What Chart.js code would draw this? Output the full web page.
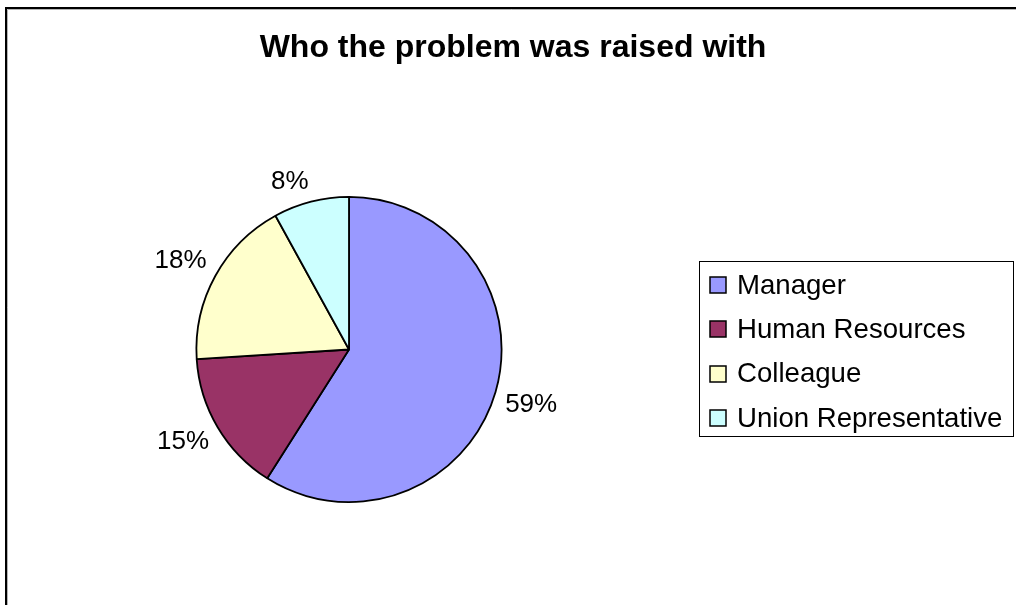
<!DOCTYPE html>
<html>
<head>
<meta charset="utf-8">
<script src="https://cdn.jsdelivr.net/npm/chart.js@4/dist/chart.umd.min.js"></script>
<style>
  html, body { margin: 0; padding: 0; background: #fff; }
  canvas { display: block; }
</style>
</head>
<body>
<canvas id="chart" width="1016" height="605"></canvas>
<script>
const titleText = "Who the problem was raised with";
const categories = ["Manager", "Human Resources", "Colleague", "Union Representative"];
const shares = [59, 15, 18, 8];
const sliceColors = ["#9999FF", "#993366", "#FFFFCC", "#CCFFFF"];

Chart.defaults.font.family = "'Liberation Sans', Arial, sans-serif";
Chart.defaults.color = "#000";

// white page, the black/grey frame on the left and top edges, and the title
const framePlugin = {
  id: "frame",
  beforeDraw(chart) {
    const ctx = chart.ctx;
    ctx.save();
    ctx.fillStyle = "#fff";
    ctx.fillRect(0, 0, chart.width, chart.height);
    ctx.strokeStyle = "#b4b4b4";
    ctx.lineWidth = 1;
    ctx.beginPath();
    ctx.moveTo(7.5, chart.height);
    ctx.lineTo(7.5, 9.5);
    ctx.lineTo(chart.width, 9.5);
    ctx.stroke();
    ctx.strokeStyle = "#000";
    ctx.lineWidth = 2;
    ctx.beginPath();
    ctx.moveTo(6, chart.height);
    ctx.lineTo(6, 8);
    ctx.lineTo(chart.width, 8);
    ctx.stroke();

    // title is centred on the whole picture, not on the pie
    ctx.font = "bold 32px 'Liberation Sans', Arial, sans-serif";
    ctx.fillStyle = "#000";
    ctx.textAlign = "center";
    ctx.textBaseline = "alphabetic";
    ctx.fillText(titleText, 513, 57);
    ctx.restore();
  }
};

// percentage labels just outside each slice
const outsideLabels = {
  id: "outsideLabels",
  afterDatasetsDraw(chart) {
    const ctx = chart.ctx;
    const meta = chart.getDatasetMeta(0);
    const total = shares.reduce((a, b) => a + b, 0);
    ctx.save();
    ctx.font = "26px 'Liberation Sans', Arial, sans-serif";
    ctx.fillStyle = "#000";
    ctx.textAlign = "center";
    ctx.textBaseline = "middle";
    meta.data.forEach((arc, i) => {
      const p = arc.getProps(["x", "y", "startAngle", "endAngle", "outerRadius"], true);
      const mid = (p.startAngle + p.endAngle) / 2;
      const dx = Math.cos(mid), dy = Math.sin(mid);
      const r = p.outerRadius + 10;
      const txt = Math.round(shares[i] / total * 100) + "%";
      const w = ctx.measureText(txt).width;
      const x = p.x + dx * r + Math.sign(dx) * w / 2;
      const y = p.y + dy * r + Math.sign(dy) * 10;
      ctx.fillText(txt, x, y);
    });
    ctx.restore();
  }
};

// boxed legend on the right
const boxLegend = {
  id: "boxLegend",
  afterDraw(chart) {
    const ctx = chart.ctx;
    const left = 699, top = 261, width = 314, height = 175;
    const rowH = 44.3, firstRow = 285;
    ctx.save();
    ctx.strokeStyle = "#000";
    ctx.lineWidth = 1;
    ctx.strokeRect(left + 0.5, top + 0.5, width, height);
    ctx.font = "27.6px 'Liberation Sans', Arial, sans-serif";
    ctx.textBaseline = "middle";
    ctx.textAlign = "left";
    categories.forEach((name, i) => {
      const cy = firstRow + i * rowH;
      ctx.fillStyle = sliceColors[i];
      ctx.fillRect(710, Math.round(cy - 8), 16, 16);
      ctx.strokeStyle = "#000";
      ctx.lineWidth = 1.5;
      ctx.strokeRect(710, Math.round(cy - 8), 16, 16);
      ctx.fillStyle = "#000";
      ctx.fillText(name, 737, cy + 1);
    });
    ctx.restore();
  }
};

new Chart(document.getElementById("chart"), {
  type: "pie",
  data: {
    labels: categories,
    datasets: [{
      data: shares,
      backgroundColor: sliceColors,
      borderColor: "#000",
      borderWidth: 1.8
    }]
  },
  options: {
    responsive: false,
    animation: false,
    events: [],
    layout: { padding: { left: 0, right: 318, top: 196, bottom: 102 } },
    plugins: {
      legend: { display: false },
      tooltip: { enabled: false },
      title: { display: false }
    }
  },
  plugins: [framePlugin, outsideLabels, boxLegend]
});
</script>
</body>
</html>
